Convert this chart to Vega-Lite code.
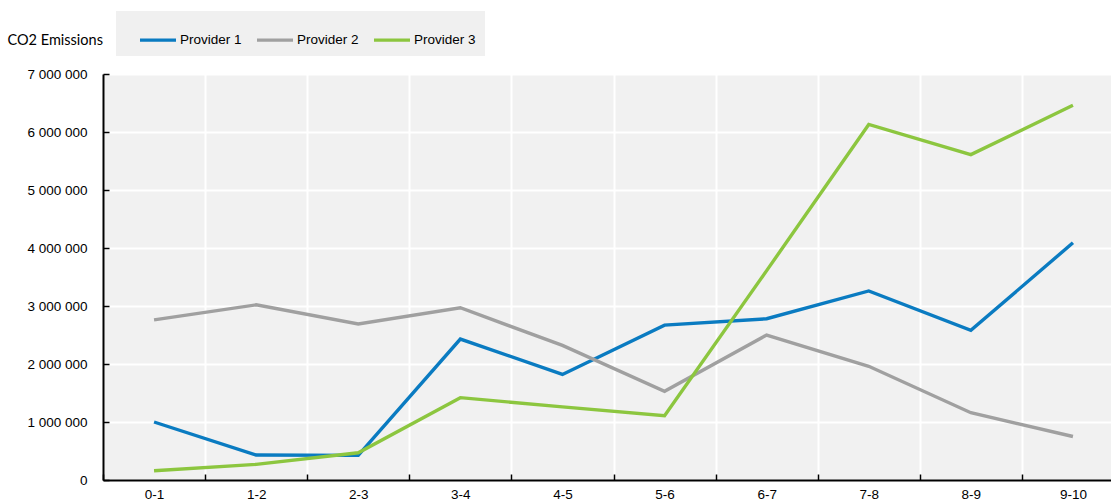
{
  "$schema": "https://vega.github.io/schema/vega-lite/v6.json",
  "autosize": {"type": "none"},
  "width": 1008,
  "height": 406,
  "padding": {"left": 103, "top": 74, "right": 0, "bottom": 22},
  "background": "white",
  "config": {
    "view": {"fill": "#f1f1f1", "stroke": null},
    "font": "Liberation Sans"
  },
  "data": {
    "values": [
      {"period": "0-1", "provider": "Provider 1", "value": 1000000},
      {"period": "1-2", "provider": "Provider 1", "value": 430000},
      {"period": "2-3", "provider": "Provider 1", "value": 425000},
      {"period": "3-4", "provider": "Provider 1", "value": 2430000},
      {"period": "4-5", "provider": "Provider 1", "value": 1820000},
      {"period": "5-6", "provider": "Provider 1", "value": 2670000},
      {"period": "6-7", "provider": "Provider 1", "value": 2780000},
      {"period": "7-8", "provider": "Provider 1", "value": 3260000},
      {"period": "8-9", "provider": "Provider 1", "value": 2580000},
      {"period": "9-10", "provider": "Provider 1", "value": 4090000},
      {"period": "0-1", "provider": "Provider 2", "value": 2760000},
      {"period": "1-2", "provider": "Provider 2", "value": 3020000},
      {"period": "2-3", "provider": "Provider 2", "value": 2690000},
      {"period": "3-4", "provider": "Provider 2", "value": 2970000},
      {"period": "4-5", "provider": "Provider 2", "value": 2320000},
      {"period": "5-6", "provider": "Provider 2", "value": 1530000},
      {"period": "6-7", "provider": "Provider 2", "value": 2500000},
      {"period": "7-8", "provider": "Provider 2", "value": 1960000},
      {"period": "8-9", "provider": "Provider 2", "value": 1160000},
      {"period": "9-10", "provider": "Provider 2", "value": 750000},
      {"period": "0-1", "provider": "Provider 3", "value": 160000},
      {"period": "1-2", "provider": "Provider 3", "value": 270000},
      {"period": "2-3", "provider": "Provider 3", "value": 470000},
      {"period": "3-4", "provider": "Provider 3", "value": 1420000},
      {"period": "4-5", "provider": "Provider 3", "value": 1260000},
      {"period": "5-6", "provider": "Provider 3", "value": 1110000},
      {"period": "6-7", "provider": "Provider 3", "value": 3610000},
      {"period": "7-8", "provider": "Provider 3", "value": 6130000},
      {"period": "8-9", "provider": "Provider 3", "value": 5610000},
      {"period": "9-10", "provider": "Provider 3", "value": 6460000}
    ]
  },
  "mark": {"type": "line", "strokeWidth": 3.4, "strokeJoin": "miter", "strokeCap": "butt"},
  "encoding": {
    "x": {
      "field": "period",
      "type": "ordinal",
      "sort": null,
      "scale": {"type": "band", "range": [0, 1021], "paddingInner": 0, "paddingOuter": 0},
      "axis": {
        "title": null,
        "labelAngle": 0,
        "tickBand": "extent",
        "grid": true,
        "gridColor": "white",
        "gridWidth": 2,
        "gridOpacity": 1,
        "domainColor": "#000000",
        "domainWidth": 2,
        "tickColor": "#000000",
        "tickWidth": 1.5,
        "tickSize": -6,
        "labelPadding": 13,
        "labelFontSize": 13.5,
        "labelColor": "#000000",
        "labelFont": "Liberation Sans"
      }
    },
    "y": {
      "field": "value",
      "type": "quantitative",
      "scale": {"domain": [0, 7000000], "nice": false},
      "axis": {
        "values": [0, 1000000, 2000000, 3000000, 4000000, 5000000, 6000000, 7000000],
        "labelExpr": "replace(format(datum.value, ','), /,/g, ' ')",
        "grid": true,
        "gridColor": "white",
        "gridWidth": 2,
        "gridOpacity": 1,
        "domainColor": "#000000",
        "domainWidth": 2,
        "tickColor": "#000000",
        "tickWidth": 1.5,
        "tickSize": -6,
        "labelPadding": 22,
        "labelFontSize": 13.5,
        "labelColor": "#000000",
        "labelFont": "Liberation Sans",
        "title": "CO2 Emissions",
        "titleAngle": 0,
        "titleAlign": "left",
        "titleBaseline": "alphabetic",
        "titleX": -96,
        "titleY": -30,
        "titleFont": "Lato",
        "titleFontSize": 14.5,
        "titleFontWeight": "normal",
        "titleColor": "#000000"
      }
    },
    "color": {
      "field": "provider",
      "type": "nominal",
      "scale": {"domain": ["Provider 1", "Provider 2", "Provider 3"], "range": ["#0a7bc1", "#a0a0a0", "#8cc63f"]},
      "legend": {
        "title": null,
        "orient": "none",
        "legendX": 13,
        "legendY": -63,
        "direction": "horizontal",
        "fillColor": "#f0f0f0",
        "padding": 9,
        "symbolType": "stroke",
        "symbolSize": 1296,
        "symbolStrokeWidth": 3.4,
        "symbolOffset": 13,
        "labelFont": "Liberation Sans",
        "labelFontSize": 13.5,
        "labelColor": "#000000",
        "labelOffset": 2,
        "columnPadding": 0
      }
    }
  }
}
